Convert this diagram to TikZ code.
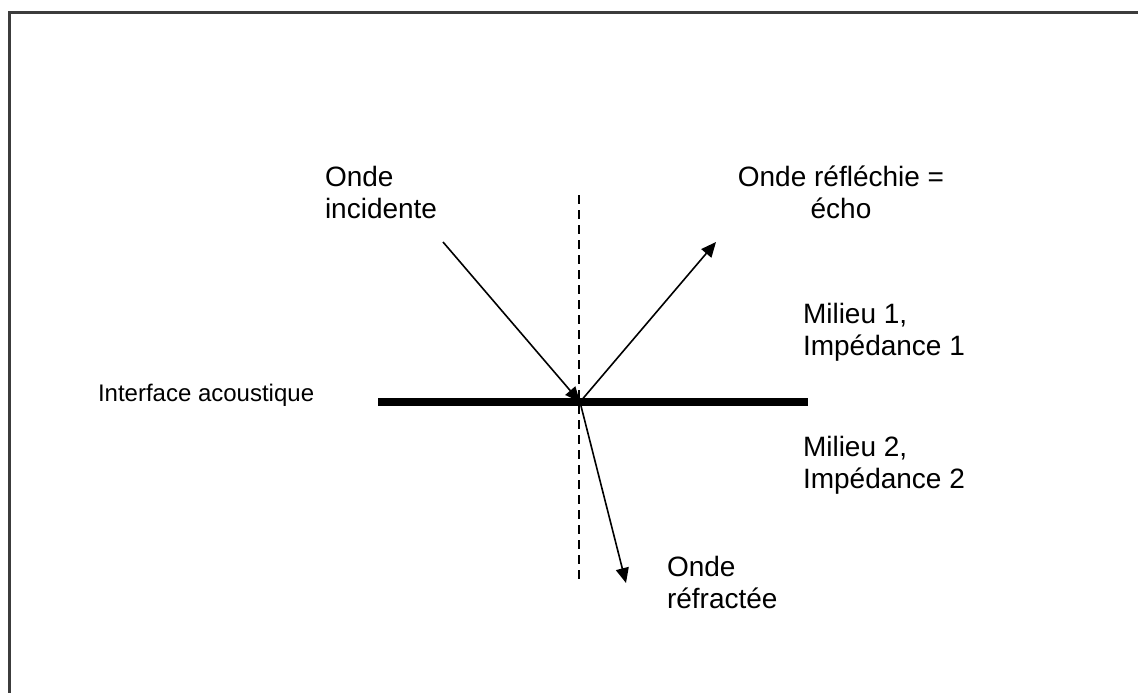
\documentclass[tikz,border=0pt]{standalone}
\usepackage{fontspec}
\setmainfont{Liberation Sans}
\usetikzlibrary{arrows.meta}
\definecolor{framegray}{HTML}{3C3C3C}
\begin{document}
\begin{tikzpicture}[x=1pt,y=-1pt,
  big/.style={font=\fontsize{28}{32}\selectfont, inner sep=0pt, outer sep=0pt},
  small/.style={font=\fontsize{24}{28}\selectfont, inner sep=0pt, outer sep=0pt},
  wave/.style={line width=1.6pt, -{Triangle[length=15pt,width=13pt]}},
  normal/.style={line width=1.6pt, dash pattern=on 9pt off 6pt},
  iface/.style={line width=7.5pt}]
\useasboundingbox (0,0) rectangle (1138,693);
% frame (only top and left visible)
\draw[framegray, line width=3pt] (9.5,700) -- (9.5,12.5) -- (1150,12.5);
% coordinates
\coordinate (O) at (580,402);
\coordinate (Ltop) at (579,195);
\coordinate (Lbot) at (579,583);
\coordinate (IL) at (378,402);
\coordinate (IR) at (808,402);
\coordinate (inc) at (443,242);
\coordinate (refl) at (716,242);
\coordinate (refr) at (626,583);
% interface and normal
\draw[iface] (IL) -- (IR);
\draw[normal] (Ltop) -- (Lbot);
% waves
\draw[wave] (inc) -- (O);
\draw[wave] (O) -- (refl);
\draw[wave] (O) -- (refr);
% labels (base anchor = baseline of the last line)
\node[big, anchor=base west, align=left] (tinc) at (325,218) {Onde\\incidente};
\node[big, anchor=base, align=center] (trefl) at (841,218) {Onde réfléchie =\\écho};
\node[big, anchor=base west, align=left] (tm1) at (803,355) {Milieu 1,\\Impédance 1};
\node[big, anchor=base west, align=left] (tm2) at (803,488) {Milieu 2,\\Impédance 2};
\node[big, anchor=base west, align=left] (trefr) at (667,608) {Onde\\réfractée};
\node[small, anchor=base west] (tif) at (98,401) {Interface acoustique};
\end{tikzpicture}
\end{document}
